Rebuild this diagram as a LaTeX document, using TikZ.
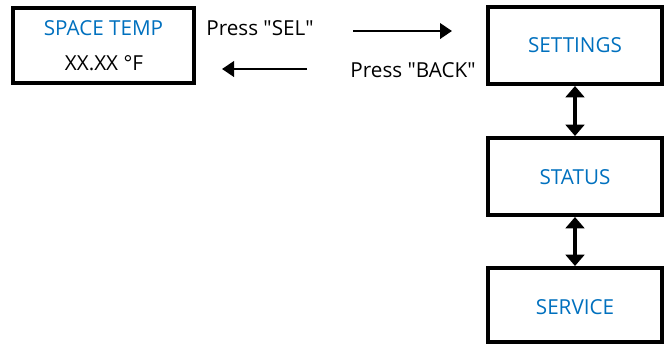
\documentclass[tikz,border=0pt]{standalone}
\usepackage{fontspec}
\setmainfont{Open Sans}
\usetikzlibrary{arrows.meta}
\definecolor{txtblue}{RGB}{0,112,190}
\begin{document}
\begin{tikzpicture}[x=0.75pt,y=-0.75pt,
  box/.style={draw=black,line width=2.5pt},
  lbl/.style={font=\fontsize{15.5}{18}\selectfont,text=txtblue,inner sep=0pt},
  plain/.style={font=\fontsize{15.5}{18}\selectfont,text=black,inner sep=0pt},
  arr/.style={line width=2.2pt,-{Triangle[length=9pt,width=11.5pt]}},
  darr/.style={line width=2.6pt,{Triangle[length=8.5pt,width=14pt]}-{Triangle[length=8.5pt,width=14pt]}}]
\useasboundingbox (0,0) rectangle (667,344);
\draw[box] (13,8) rectangle (194,83);
\node[lbl] (sptemp) at (103.5,28) {SPACE TEMP};
\node[plain] (xx) at (104,63) {XX.XX \textdegree F};
\node[plain] (sel) at (260,28) {Press \textquotedbl SEL\textquotedbl};
\node[plain] (back) at (413,70) {Press \textquotedbl BACK\textquotedbl};
\draw[box] (488,7) rectangle (662,84);
\node[lbl] (settings) at (575,45) {SETTINGS};
\draw[box] (488,138) rectangle (662,215);
\node[lbl] (status) at (575,177) {STATUS};
\draw[box] (488,268) rectangle (662,342);
\node[lbl] (service) at (575,307) {SERVICE};
\coordinate (a1s) at (353,31);
\coordinate (a1e) at (452,31);
\coordinate (a2s) at (307,69);
\coordinate (a2e) at (222,69);
\draw[arr] (a1s) -- (a1e);
\draw[arr] (a2s) -- (a2e);
\coordinate (d1s) at (575,86);
\coordinate (d1e) at (575,136);
\coordinate (d2s) at (575,217);
\coordinate (d2e) at (575,266);
\draw[darr] (d1s) -- (d1e);
\draw[darr] (d2s) -- (d2e);
\end{tikzpicture}
\end{document}
